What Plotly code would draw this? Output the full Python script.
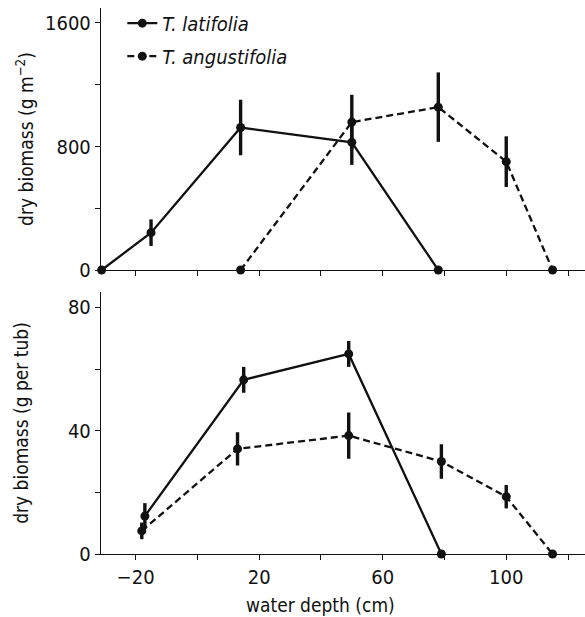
import plotly.graph_objects as go
from plotly.subplots import make_subplots

# Biomass per area (g m^-2) against water depth (cm)
lat_area_depth = [-31, -15, 14, 50, 78]
lat_area_mass = [0, 242, 923, 827, 0]
lat_area_err = [0, 86, 180, 146, 0]

ang_area_depth = [14, 50, 78, 100, 115]
ang_area_mass = [0, 958, 1055, 702, 0]
ang_area_err = [0, 177, 225, 164, 0]

# Biomass per tub (g) against water depth (cm)
lat_tub_depth = [-17, 15, 49, 79]
lat_tub_mass = [12.3, 56.5, 64.9, 0]
lat_tub_err = [4.2, 4.2, 4.2, 0]

ang_tub_depth = [-18, 13, 49, 79, 100, 115]
ang_tub_mass = [7.5, 34.1, 38.4, 30.0, 18.6, 0]
ang_tub_err = [2.7, 5.4, 7.5, 5.6, 3.8, 0]

species = ["T. latifolia", "T. angustifolia"]
x_ticks = [-20, 20, 60, 100]
x_labels = ["\u221220", "20", "60", "100"]

FONT = "DejaVu Sans Condensed, Liberation Sans Narrow, Roboto Condensed, DejaVu Sans, sans-serif"
INK = "#111111"
DASH = "7px,4px"

fig = make_subplots(rows=2, cols=1, shared_xaxes=False, vertical_spacing=0.0402)


def add_series(row, xs, ys, err, name, dash, show):
    fig.add_trace(
        go.Scatter(
            x=xs, y=ys, name=f"<i>{name}</i>", mode="lines+markers",
            legendgroup=name,
            line=dict(color=INK, width=2.3, dash=dash),
            marker=dict(color=INK, size=9),
            error_y=dict(type="data", array=err, visible=True,
                         color=INK, thickness=3.4, width=0),
            cliponaxis=False, showlegend=show,
        ),
        row=row, col=1,
    )


add_series(1, lat_area_depth, lat_area_mass, lat_area_err, species[0], "solid", True)
add_series(1, ang_area_depth, ang_area_mass, ang_area_err, species[1], DASH, True)
add_series(2, lat_tub_depth, lat_tub_mass, lat_tub_err, species[0], "solid", False)
add_series(2, ang_tub_depth, ang_tub_mass, ang_tub_err, species[1], DASH, False)

axis_common = dict(
    showline=True, linecolor=INK, linewidth=1.4, mirror=False,
    ticks="outside", ticklen=5, tickwidth=1.4, tickcolor=INK,
    showgrid=False, zeroline=False,
    tickfont=dict(family=FONT, size=20, color=INK),
)
minor_common = dict(ticks="outside", ticklen=5, tickwidth=1.4, tickcolor=INK,
                    showgrid=False)

for r in (1, 2):
    fig.update_xaxes(
        range=[-31.2, 125.5], tickmode="array", tickvals=x_ticks,
        ticktext=x_labels, showticklabels=(r == 2),
        minor=dict(tick0=0, dtick=20, **minor_common),
        row=r, col=1, **axis_common,
    )

fig.update_yaxes(
    range=[0, 1697], tick0=0, dtick=800,
    minor=dict(tick0=0, dtick=400, **minor_common),
    title=dict(text="dry biomass (g m<sup>\u22122</sup>)",
               font=dict(family=FONT, size=19, color=INK), standoff=6),
    row=1, col=1, **axis_common,
)
fig.update_yaxes(
    range=[0, 85], tick0=0, dtick=40,
    minor=dict(tick0=0, dtick=20, **minor_common),
    title=dict(text="dry biomass (g per tub)",
               font=dict(family=FONT, size=19, color=INK), standoff=34),
    row=2, col=1, **axis_common,
)

fig.add_annotation(
    text="water depth (cm)", xref="x2", yref="paper", x=40, y=-0.094,
    xanchor="center", yanchor="middle", showarrow=False,
    font=dict(family=FONT, size=19, color=INK),
)

fig.update_layout(
    width=585, height=617,
    margin=dict(l=101, r=0, t=8, b=63),
    paper_bgcolor="white", plot_bgcolor="white",
    font=dict(family=FONT, color=INK),
    hovermode=False,
    legend=dict(
        x=0.044, y=1.008, xanchor="left", yanchor="top",
        font=dict(family=FONT, size=20, color=INK),
        bgcolor="rgba(0,0,0,0)", tracegroupgap=4, itemwidth=30,
    ),
)

fig.write_html("out.html")
